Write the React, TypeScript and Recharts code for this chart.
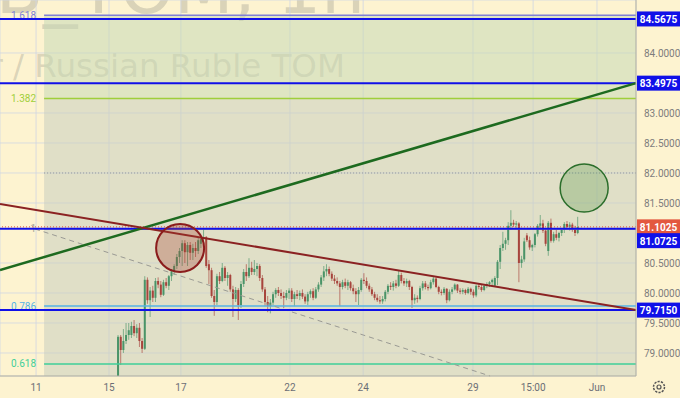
import React from "react";
import {
  ComposedChart, Bar, XAxis, YAxis, CartesianGrid, ReferenceLine, ReferenceArea, ReferenceDot,
} from "recharts";

// hourly USD/RUB TOM bars, [open, high, low, close]
const FIRST_SLOT = 44.3;
const ohlc: [number, number, number, number][] = [
  [78.60, 79.30, 78.55, 79.27], [79.27, 79.30, 78.80, 79.05], [79.05, 79.40, 79.00, 79.20], [79.20, 79.50, 79.15, 79.30],
  [79.30, 79.50, 79.22, 79.38], [79.30, 79.52, 79.25, 79.45], [79.45, 79.55, 79.28, 79.33], [79.33, 79.48, 79.25, 79.42],
  [79.42, 79.50, 79.10, 79.20], [79.20, 79.25, 79.00, 79.07], [79.07, 80.28, 79.05, 80.22], [80.22, 80.26, 79.82, 79.88],
  [79.88, 80.10, 79.60, 80.04], [80.04, 80.12, 79.85, 79.92], [79.92, 80.25, 79.85, 80.20], [80.20, 80.26, 80.08, 80.14],
  [80.14, 80.20, 79.93, 79.97], [79.97, 80.22, 79.95, 80.18], [80.18, 80.25, 80.08, 80.12], [80.12, 80.30, 80.05, 80.28],
  [80.28, 80.40, 80.20, 80.36], [80.36, 80.48, 80.30, 80.45], [80.45, 80.65, 80.40, 80.60], [80.60, 80.75, 80.50, 80.70],
  [80.70, 80.88, 80.45, 80.83], [80.83, 80.88, 80.50, 80.68], [80.68, 80.85, 80.45, 80.80], [80.80, 80.85, 80.55, 80.67],
  [80.67, 80.82, 80.55, 80.75], [80.75, 80.85, 80.60, 80.70], [80.70, 80.92, 80.65, 80.88], [80.82, 80.95, 80.75, 80.90],
  [80.90, 81.07, 80.85, 80.93], [80.93, 80.95, 80.42, 80.45], [80.48, 80.55, 80.15, 80.38], [80.38, 80.42, 79.92, 79.95],
  [79.95, 80.05, 79.62, 79.85], [79.85, 80.32, 79.80, 80.28], [80.28, 80.35, 80.15, 80.20], [80.20, 80.50, 80.18, 80.42],
  [80.42, 80.45, 80.20, 80.25], [80.25, 80.35, 80.12, 80.30], [80.30, 80.32, 80.02, 80.06], [80.06, 80.12, 79.60, 79.90],
  [79.90, 80.10, 79.85, 80.05], [80.05, 80.08, 79.55, 79.80], [79.80, 80.20, 79.75, 80.15], [80.15, 80.40, 80.10, 80.35],
  [80.35, 80.48, 80.20, 80.28], [80.28, 80.58, 80.25, 80.42], [80.42, 80.52, 80.30, 80.35], [80.35, 80.55, 80.30, 80.40],
  [80.40, 80.50, 80.28, 80.45], [80.45, 80.48, 80.20, 80.25], [80.25, 80.30, 80.02, 80.06], [80.06, 80.10, 79.78, 79.85],
  [79.85, 79.95, 79.68, 79.78], [79.78, 79.90, 79.66, 79.84], [79.84, 80.02, 79.80, 79.98], [79.98, 80.08, 79.92, 80.05],
  [80.05, 80.10, 79.95, 80.00], [80.00, 80.06, 79.90, 79.95], [79.95, 80.02, 79.75, 79.92], [79.92, 80.05, 79.88, 80.00],
  [80.00, 80.08, 79.90, 80.04], [80.04, 80.08, 79.85, 79.90], [79.90, 80.02, 79.78, 79.98], [79.98, 80.05, 79.90, 79.95],
  [79.95, 80.04, 79.88, 80.00], [80.00, 80.06, 79.90, 79.94], [79.94, 79.98, 79.82, 79.86], [79.86, 80.02, 79.80, 79.98],
  [79.98, 80.06, 79.92, 80.03], [80.03, 80.08, 79.88, 79.92], [79.92, 80.10, 79.90, 80.06], [80.06, 80.18, 80.02, 80.14],
  [80.14, 80.30, 80.10, 80.26], [80.26, 80.45, 80.20, 80.36], [80.36, 80.48, 80.28, 80.40], [80.40, 80.44, 80.28, 80.32],
  [80.32, 80.36, 80.20, 80.24], [80.24, 80.30, 80.15, 80.20], [80.20, 80.26, 80.12, 80.16], [80.16, 80.20, 79.78, 80.10],
  [80.10, 80.22, 80.06, 80.18], [80.18, 80.24, 80.08, 80.12], [80.12, 80.22, 80.05, 80.18], [80.18, 80.20, 80.04, 80.08],
  [80.08, 80.14, 79.98, 80.03], [80.03, 80.08, 79.85, 79.98], [79.98, 80.10, 79.80, 80.05], [80.05, 80.25, 80.02, 80.22],
  [80.22, 80.33, 80.15, 80.20], [80.20, 80.26, 80.08, 80.12], [80.12, 80.16, 80.02, 80.06], [80.06, 80.10, 79.95, 79.98],
  [79.98, 80.02, 79.88, 79.92], [79.92, 79.98, 79.85, 79.88], [79.88, 79.95, 79.82, 79.86], [79.86, 79.95, 79.82, 79.90],
  [79.90, 80.05, 79.86, 80.02], [80.02, 80.15, 79.98, 80.12], [80.12, 80.18, 80.05, 80.10], [80.10, 80.20, 80.04, 80.16],
  [80.16, 80.22, 80.08, 80.12], [80.12, 80.38, 80.10, 80.30], [80.30, 80.34, 80.16, 80.20], [80.20, 80.25, 80.12, 80.16],
  [80.16, 80.24, 80.10, 80.20], [80.20, 80.22, 80.05, 80.10], [80.10, 80.12, 79.75, 79.88], [79.88, 79.98, 79.82, 79.92],
  [79.92, 79.96, 79.84, 79.90], [79.90, 80.12, 79.88, 80.08], [80.08, 80.20, 80.04, 80.16], [80.16, 80.20, 80.06, 80.10],
  [80.10, 80.14, 80.04, 80.08], [80.08, 80.22, 80.06, 80.18], [80.18, 80.28, 80.14, 80.24], [80.24, 80.26, 80.08, 80.10],
  [80.10, 80.12, 79.98, 80.02], [80.02, 80.06, 79.96, 80.00], [80.00, 80.10, 79.97, 80.07], [80.07, 80.08, 79.83, 79.88],
  [79.88, 80.06, 79.86, 80.02], [80.02, 80.10, 79.98, 80.06], [80.06, 80.16, 80.04, 80.14], [80.14, 80.15, 80.00, 80.04],
  [80.04, 80.08, 79.98, 80.02], [80.02, 80.08, 79.98, 80.05], [80.05, 80.07, 79.97, 80.00], [80.00, 80.10, 79.98, 80.07],
  [80.07, 80.09, 79.97, 80.02], [80.02, 80.06, 79.92, 79.96], [79.96, 80.14, 79.93, 80.12], [80.12, 80.16, 80.06, 80.10],
  [80.10, 80.15, 80.02, 80.05], [80.05, 80.14, 80.03, 80.12], [80.12, 80.18, 80.08, 80.15], [80.15, 80.20, 80.10, 80.18],
  [80.18, 80.24, 80.12, 80.22], [80.12, 80.28, 80.10, 80.25], [80.25, 80.55, 80.13, 80.52], [80.52, 80.80, 80.40, 80.75],
  [80.75, 81.02, 80.70, 80.82], [80.82, 80.92, 80.72, 80.88], [80.88, 81.18, 80.80, 81.12], [81.12, 81.38, 81.05, 81.17],
  [81.17, 81.22, 81.10, 81.14], [81.14, 81.20, 81.08, 81.16], [81.16, 81.18, 80.18, 80.50], [80.50, 80.62, 80.42, 80.56],
  [80.56, 80.92, 80.52, 80.86], [80.96, 81.00, 80.85, 80.88], [80.88, 80.94, 80.72, 80.76], [80.76, 80.82, 80.70, 80.80],
  [80.80, 81.00, 80.76, 80.98], [80.98, 81.15, 80.94, 81.12], [81.12, 81.30, 81.08, 81.16], [81.16, 81.22, 81.00, 81.04],
  [81.04, 81.08, 80.78, 80.82], [80.70, 81.20, 80.62, 81.17], [81.17, 81.24, 80.84, 80.87], [80.87, 81.02, 80.84, 80.98],
  [80.98, 81.05, 80.88, 80.92], [80.92, 81.02, 80.86, 81.00], [81.00, 81.08, 80.95, 81.05], [81.05, 81.18, 81.00, 81.15],
  [81.15, 81.20, 81.06, 81.10], [81.10, 81.18, 81.04, 81.14], [81.14, 81.17, 81.02, 81.06], [81.06, 81.12, 80.95, 81.00],
  [81.00, 81.27, 80.98, 81.10],
];

const tickSlots = [13.5, 40.8, 67.7, 108.5, 135.9, 177, 199.5, 223.4];
const tickLabels = ["11", "15", "17", "22", "24", "29", "15:00", "Jun"];
const priceTicks = [79, 79.5, 80, 80.5, 81.5, 82, 82.5, 83, 84];

const fibStart = 16.5;
const fibLevels = ["1.618", "1.382", "1", "0.786", "0.618"];
const fibPrices = [84.628, 83.24, 81.067, 79.783, 78.817];
const fibColors = ["#7f80d6", "#9fcf3a", "#a3a39b", "#55b3e6", "#3fcf99"];

const levelPrices = [84.5675, 83.4975, 81.0725, 79.715];
const lastPrice = 81.1025;
const greenTrend = [{ x: 0, y: 80.383 }, { x: 238, y: 83.4975 }];
const redTrend = [{ x: 0, y: 81.483 }, { x: 238, y: 79.715 }];
const fibDiagonal = [{ x: 13.1, y: 81.067 }, { x: 183.4, y: 78.6167 }];
const redCircle = { x: 67.4, y: 80.75 };
const greenCircle = { x: 218.6, y: 81.75 };

const Y_MIN = 78.6167;
const Y_MAX = 84.8833;
const GREEN = "#4a9468";
const RED = "#a7443c";
const BLUE = "#1010e8";

const data = ohlc.map(([open, high, low, close], i) => ({
  slot: FIRST_SLOT + i, open, high, low, close,
}));

function Candle(props: any) {
  const { x, y, width, height, payload } = props;
  const top = Math.min(y, y + height);
  const h = Math.abs(height);
  const ppu = h / (payload.high - payload.low || 1);
  const yOf = (v: number) => top + (payload.high - v) * ppu;
  const up = payload.close >= payload.open;
  const color = up ? GREEN : RED;
  const cx = x + width / 2;
  const bTop = yOf(Math.max(payload.open, payload.close));
  const bBot = yOf(Math.min(payload.open, payload.close));
  return (
    <g>
      <line x1={cx} x2={cx} y1={top} y2={top + h} stroke={color} strokeOpacity={0.65} strokeWidth={1} />
      <rect x={x} y={bTop} width={width} height={Math.max(1, bBot - bTop)} fill={color} />
    </g>
  );
}

const priceTag = (value: number, bg: string, dy = 0) => (props: any) => {
  const vb = props.viewBox;
  const x = vb.x + vb.width;
  const y = vb.y + dy;
  return (
    <g>
      <rect x={x + 1} y={y - 7.5} width={43} height={15} fill={bg} />
      <text x={x + 22.5} y={y + 0.5} fill="#fff" fontSize={10} fontWeight="bold"
        textAnchor="middle" dominantBaseline="central" fontFamily="Roboto, sans-serif">
        {value.toFixed(4)}
      </text>
    </g>
  );
};

const fibLabel = (text: string, color: string) => (props: any) => {
  const vb = props.viewBox;
  return (
    <text x={vb.x - 8} y={vb.y} fill={color} fontSize={10} textAnchor="end"
      dominantBaseline="central" fontFamily="Roboto, sans-serif">
      {text}
    </text>
  );
};

export default function App() {
  return (
    <div style={{ position: "absolute", left: 0, top: 0, width: 680, height: 398, background: "#fdf3d0", overflow: "hidden" }}>
      <svg width={680} height={398} style={{ position: "absolute", left: 0, top: 0 }}>
        <text x={365} y={13} fontSize={69} fill="#8a8a80" fillOpacity={0.3} textAnchor="end" fontFamily="'DejaVu Sans', sans-serif">
          USDRUB_TOM, 1h
        </text>
        <text x={345} y={77} fontSize={32.5} fill="#8a8a80" fillOpacity={0.3} textAnchor="end" fontFamily="'DejaVu Sans', sans-serif">
          US Dollar / Russian Ruble TOM
        </text>
      </svg>
      <div style={{ position: "absolute", left: 0, top: 0 }}>
        <ComposedChart width={680} height={398} data={data} margin={{ top: 0, right: 0, bottom: 0, left: 0 }}>
          <ReferenceArea x1={fibStart} x2={238} y1={fibPrices[1]} y2={fibPrices[0]} fill="#c7d9b6" fillOpacity={0.55} stroke="none" ifOverflow="hidden" />
          <ReferenceArea x1={fibStart} x2={238} y1={Y_MIN} y2={fibPrices[1]} fill="#c8cdbf" fillOpacity={0.55} stroke="none" ifOverflow="hidden" />
          <CartesianGrid stroke="#cfd6e2" strokeOpacity={0.8} />
          <XAxis
            type="number" dataKey="slot" domain={[0, 238]} allowDataOverflow ticks={tickSlots}
            tickFormatter={(v) => tickLabels[tickSlots.indexOf(v)] ?? ""}
            height={22} tickLine={false} axisLine={{ stroke: "#b3b09f" }}
            tick={{ fontSize: 10, fill: "#6b6e76", fontFamily: "Roboto, sans-serif" }}
          />
          <YAxis
            orientation="right" width={44} domain={[Y_MIN, Y_MAX]} allowDataOverflow ticks={priceTicks}
            tickFormatter={(v) => Number(v).toFixed(4)} tickLine={false} axisLine={{ stroke: "#b3b09f" }}
            tick={{ fontSize: 10, fill: "#7d7d7d", fontFamily: "Roboto, sans-serif" }}
          />
          {fibLevels.map((lv, i) => (
            <ReferenceLine key={lv}
              segment={[{ x: fibStart, y: fibPrices[i] }, { x: 238, y: fibPrices[i] }]}
              stroke={fibColors[i]} strokeWidth={1.5} ifOverflow="visible"
              label={fibLabel(lv, fibColors[i])}
            />
          ))}
          <ReferenceLine segment={fibDiagonal} stroke="#9a9a94" strokeDasharray="5 4" strokeWidth={1} ifOverflow="visible" />
          <ReferenceLine segment={[{ x: fibStart, y: 82 }, { x: 238, y: 82 }]} stroke="#8f949c" strokeDasharray="1 2" ifOverflow="visible" />
          <Bar dataKey={(d: any) => [d.low, d.high]} barSize={2} shape={Candle} isAnimationActive={false} />
          <ReferenceDot x={redCircle.x} y={redCircle.y} r={24} fill="#a4402f" fillOpacity={0.3} stroke="#8b1c1c" strokeWidth={2} ifOverflow="visible" />
          <ReferenceLine y={lastPrice} stroke="#e0533d" strokeDasharray="1 2" label={priceTag(lastPrice, "#e3583f")} />
          {levelPrices.map((p, i) => (
            <ReferenceLine key={p} y={p} stroke={BLUE} strokeWidth={2}
              label={priceTag(p, BLUE, i === 2 ? 12 : 0)} />
          ))}
          <ReferenceLine segment={greenTrend} stroke="#1d6a1f" strokeWidth={2.5} ifOverflow="visible" />
          <ReferenceLine segment={redTrend} stroke="#8b2222" strokeWidth={2} ifOverflow="visible" />
          <ReferenceDot x={greenCircle.x} y={greenCircle.y} r={24} fill="#5d9a4c" fillOpacity={0.3} stroke="#2b6e2b" strokeWidth={1.5} ifOverflow="visible" />
        </ComposedChart>
      </div>
      <svg width={680} height={398} style={{ position: "absolute", left: 0, top: 0, pointerEvents: "none" }}>
        <circle cx={659} cy={387} r={5.5} fill="none" stroke="#555" strokeWidth={1.5} strokeDasharray="2.2 1.2" />
        <circle cx={659} cy={387} r={2} fill="none" stroke="#555" strokeWidth={1.2} />
      </svg>
    </div>
  );
}
